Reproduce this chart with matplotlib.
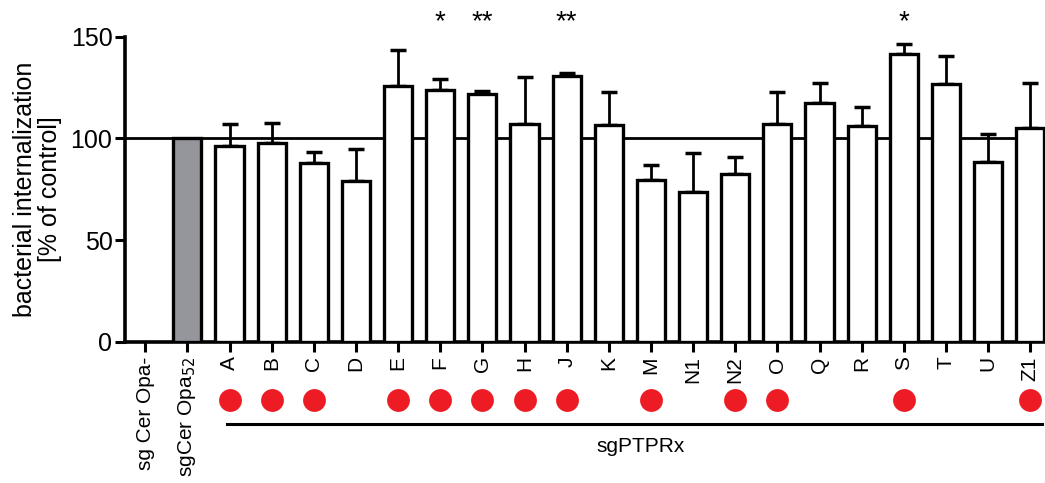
import numpy as np
import matplotlib.pyplot as plt

plt.rcParams['font.family'] = ['Liberation Sans', 'DejaVu Sans']

# categories and values
labels = ['sg Cer Opa-', 'sgCer Opa$_{52}$', 'A', 'B', 'C', 'D', 'E', 'F', 'G', 'H', 'J', 'K',
          'M', 'N1', 'N2', 'O', 'Q', 'R', 'S', 'T', 'U', 'Z1']
means = [0, 100, 96.4, 97.7, 87.7, 79.2, 125.8, 123.8, 122.0, 106.9, 130.7, 106.6,
         79.5, 73.5, 82.3, 107.2, 117.4, 106.3, 141.7, 126.6, 88.2, 105.1]
err_top = [0, 0, 106.9, 107.4, 93.5, 94.6, 143.3, 129.2, 123.3, 130.0, 132.0, 122.8,
           86.9, 93.0, 90.8, 122.8, 127.2, 115.4, 146.3, 140.5, 102.3, 127.1]
stars = {'F': '*', 'G': '**', 'J': '**', 'S': '*'}
dots = ['A', 'B', 'C', 'E', 'F', 'G', 'H', 'J', 'M', 'N2', 'O', 'S', 'Z1']

x = np.arange(len(labels))
errs = np.array(err_top) - np.array(means)
errs[:2] = 0

fig = plt.figure(figsize=(10.45, 4.83), dpi=100)
ax = fig.add_axes([0.1196, 0.2925, 0.8804, 0.6315])

ax.axhline(100, color='black', lw=2, zorder=1)

colors = ['white', '#94969b'] + ['white'] * (len(labels) - 2)
bars = ax.bar(x[1:], means[1:], width=0.67, color=colors[1:], edgecolor='black',
              linewidth=2.4, zorder=3)
ax.errorbar(x[2:], means[2:], yerr=[np.zeros(len(x) - 2), errs[2:]], fmt='none',
            ecolor='black', elinewidth=2, capsize=5.5, capthick=2.5, zorder=2)

ax.set_ylim(0, 150)
ax.set_xlim(-0.48, 21.35)
ax.set_yticks([0, 50, 100, 150])
ax.set_xticks(x)
ax.set_xticklabels(labels, rotation=90, fontsize=15)
ax.tick_params(axis='y', labelsize=18, width=2.2, length=7, pad=2)
ax.tick_params(axis='x', width=2.2, length=7)
ax.spines['top'].set_visible(False)
ax.spines['right'].set_visible(False)
ax.spines['left'].set_linewidth(2.6)
ax.spines['bottom'].set_linewidth(2.6)
ax.set_ylabel('bacterial internalization\n[% of control]', fontsize=18, labelpad=6,
              linespacing=1.05)

# significance stars
for k, s in stars.items():
    i = labels.index(k)
    ax.text(i, 157, s, ha='center', va='center', fontsize=20, clip_on=False)

# red dots below labels
tr = ax.get_xaxis_transform()
dx = [labels.index(d) for d in dots]
ax.scatter(dx, [-0.191] * len(dx), s=270, color='#ed1c24', transform=tr,
           clip_on=False, zorder=5, linewidths=0)

ax.plot([1.94, 21.27], [-0.27, -0.27], color='black', lw=2.2, transform=tr, clip_on=False)
ax.text(11.75, -0.345, 'sgPTPRx', ha='center', va='center', fontsize=15, transform=tr)

fig.savefig('out.png', dpi=100)
